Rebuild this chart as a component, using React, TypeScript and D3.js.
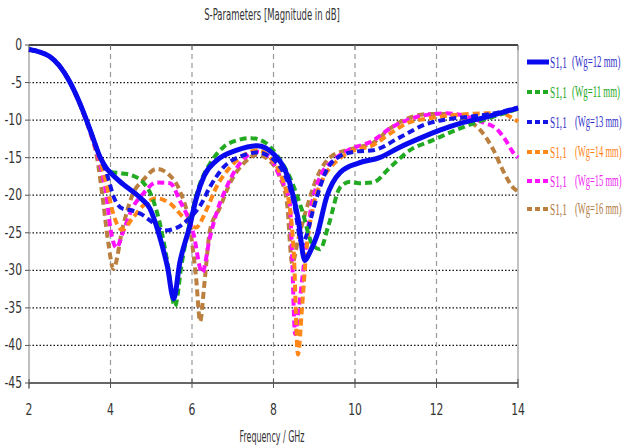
import React from "react";
import * as d3 from "d3";

const xTicks = [2, 4, 6, 8, 10, 12, 14];
const yTicks = [0, -5, -10, -15, -20, -25, -30, -35, -40, -45];

const freqWg12 = [2, 2.25, 2.5, 2.75, 3, 3.25, 3.5, 3.75, 3.9, 4.0, 4.3, 4.72, 4.97, 5.2, 5.4, 5.55, 5.7, 5.95, 6.1, 6.3, 6.6, 7.1, 7.6, 8.0, 8.4, 8.6, 8.77, 8.9, 9.07, 9.3, 9.63, 10.1, 10.6, 11.1, 11.6, 12.1, 12.6, 13.14, 13.6, 14];
const s11Wg12 = [-0.6, -0.9, -1.5, -2.8, -4.9, -7.8, -11.3, -15.0, -16.4, -17.0, -18.5, -20.3, -21.8, -25.4, -29.6, -33.8, -29, -24.0, -20.5, -17.4, -15.4, -14.0, -13.4, -14.5, -18.4, -23, -28.7, -27.5, -25.3, -20.3, -17.0, -15.7, -15.0, -13.6, -12.4, -11.3, -10.4, -9.7, -9.0, -8.4];

const freqWg11 = [2, 2.25, 2.5, 2.75, 3, 3.25, 3.5, 3.75, 3.9, 4.0, 4.3, 4.55, 4.8, 5.0, 5.2, 5.4, 5.58, 5.75, 5.95, 6.2, 6.44, 6.77, 7.1, 7.45, 7.8, 8.1, 8.4, 8.7, 8.95, 9.14, 9.35, 9.63, 9.88, 10.1, 10.44, 10.86, 11.35, 11.9, 12.58, 13.14, 13.6, 14];
const s11Wg11 = [-0.6, -0.9, -1.5, -2.8, -4.9, -7.8, -11.3, -15.0, -16.4, -16.9, -17.1, -17.4, -18.3, -20, -23.5, -29, -34.8, -29, -23.5, -18.4, -15.8, -13.6, -12.7, -12.4, -13.0, -14.8, -17.6, -22, -26.5, -27.2, -24, -19.0, -18.2, -18.4, -18.3, -16.3, -14.0, -12.7, -11.1, -10.0, -9.2, -8.5];

const freqWg13 = [2, 2.25, 2.5, 2.75, 3, 3.25, 3.5, 3.75, 3.9, 4.1, 4.3, 4.5, 4.75, 5.0, 5.3, 5.6, 5.95, 6.2, 6.44, 6.77, 7.26, 7.6, 8.1, 8.5, 8.7, 8.8, 8.97, 9.3, 9.63, 10.0, 10.45, 11.1, 11.76, 12.25, 12.9, 13.5, 14];
const s11Wg13 = [-0.6, -0.9, -1.5, -2.8, -4.9, -7.8, -11.3, -15.0, -17, -20.5, -21.8, -22.0, -22.5, -23.5, -24.7, -24.4, -23, -21.4, -18.9, -16.3, -14.7, -14.3, -15.8, -21, -26.5, -25.5, -22, -16.7, -14.8, -14.2, -14.0, -12.3, -10.5, -9.9, -9.5, -9.0, -8.3];

const freqWg14 = [2, 2.25, 2.5, 2.75, 3, 3.25, 3.5, 3.75, 3.9, 4.07, 4.28, 4.55, 4.8, 5.13, 5.46, 5.8, 6.1, 6.35, 6.6, 6.93, 7.35, 7.6, 7.9, 8.25, 8.4, 8.5, 8.6, 8.7, 8.8, 8.97, 9.2, 9.56, 9.9, 10.45, 10.86, 11.28, 11.77, 12.5, 13.14, 13.6, 13.88, 14];
const s11Wg14 = [-0.6, -0.9, -1.5, -2.8, -4.9, -7.9, -11.5, -15.5, -18.5, -22.5, -24.6, -23.0, -21.4, -20.4, -21.1, -23, -24.3, -22, -18.9, -16.3, -14.4, -14.0, -14.9, -18.4, -21.6, -28, -41.2, -35, -27.8, -21.6, -18.0, -15.4, -14.2, -13.3, -11.8, -10.4, -9.8, -9.3, -9.1, -9.1, -9.8, -10.2];

const freqWg15 = [2, 2.25, 2.5, 2.75, 3, 3.25, 3.5, 3.75, 3.9, 4.0, 4.15, 4.3, 4.55, 4.8, 5.13, 5.46, 5.7, 6.03, 6.25, 6.44, 6.6, 6.85, 7.17, 7.6, 7.9, 8.16, 8.4, 8.45, 8.53, 8.6, 8.73, 8.9, 9.14, 9.46, 9.8, 10.45, 10.86, 11.28, 11.77, 12.25, 12.8, 13.14, 13.5, 13.7, 13.88, 14];
const s11Wg15 = [-0.6, -0.9, -1.5, -2.8, -4.9, -7.9, -11.6, -16, -20, -24.5, -27, -25, -21.6, -19.8, -18.3, -18.4, -20.7, -25, -30.3, -25.6, -22.4, -18.9, -15.8, -14.2, -14.9, -17.6, -21, -27, -38.5, -36, -30, -22.4, -17.6, -15.4, -14.1, -12.7, -11.1, -10.0, -9.3, -9.1, -9.6, -10.3, -11.3, -12.7, -14.3, -15.0];

const freqWg16 = [2, 2.25, 2.5, 2.75, 3, 3.25, 3.5, 3.67, 3.8, 3.95, 4.07, 4.3, 4.55, 4.8, 5.13, 5.46, 5.7, 5.95, 6.1, 6.2, 6.3, 6.44, 6.69, 6.93, 7.26, 7.6, 7.9, 8.16, 8.33, 8.46, 8.6, 8.8, 9.07, 9.4, 9.8, 10.1, 10.45, 10.86, 11.28, 11.77, 12.25, 12.65, 13.07, 13.4, 13.63, 13.88, 14];
const s11Wg16 = [-0.6, -0.9, -1.5, -2.8, -4.9, -7.9, -11.6, -15, -20, -26.5, -29.8, -24.3, -19.8, -18, -16.5, -17.4, -19.4, -24.3, -31, -36.8, -32, -24.7, -21.6, -18.4, -15.8, -14.6, -15.4, -17.6, -21, -29.1, -26, -22, -17.6, -14.9, -14.0, -13.6, -13.0, -11.1, -9.8, -9.2, -9.2, -9.8, -11.3, -14, -16.7, -19, -19.5];

const seriesLabels = ["(Wg=12 mm)", "(Wg=11 mm)", "(Wg=13 mm)", "(Wg=14 mm)", "(Wg=15 mm)", "(Wg=16 mm)"];
const seriesColors = ["#0a0aee", "#22aa22", "#1515e8", "#ff8818", "#ff10ff", "#bb8040"];
const textColors = ["#3030c8", "#22a822", "#3030c8", "#ff8010", "#ee20ee", "#b07840"];
const seriesFreqs = [freqWg12, freqWg11, freqWg13, freqWg14, freqWg15, freqWg16];
const seriesValues = [s11Wg12, s11Wg11, s11Wg13, s11Wg14, s11Wg15, s11Wg16];

const W = 625, H = 446;
const left = 29, right = 518, top = 45, bottom = 383;

export default function App() {
  const x = d3.scaleLinear().domain([2, 14]).range([left, right]);
  const y = d3.scaleLinear().domain([0, -45]).range([top, bottom]);
  const line = d3.line<[number, number]>()
    .x(d => x(d[0]))
    .y(d => y(d[1]))
    .curve(d3.curveMonotoneX);

  const axisFont = "'Liberation Sans Narrow', 'DejaVu Sans Condensed', sans-serif";
  const legendFont = "'Liberation Serif', 'DejaVu Serif', serif";
  const legendY = [62, 92, 122, 152, 181, 209];

  const order = [5, 4, 3, 2, 1, 0];

  return (
    <svg width={W} height={H} style={{ position: "absolute", left: 0, top: 0, background: "#fff" }}>
      <rect x={0} y={0} width={W} height={H} fill="#fff" />
      <g transform="translate(272,20) scale(0.63,1)">
        <text x={0} y={0} textAnchor="middle" fontFamily={axisFont} fontSize={15} fill="#333">S-Parameters [Magnitude in dB]</text>
      </g>

      {yTicks.filter(t => t !== 0 && t !== -45).map(t => (
        <line key={"h" + t} x1={left} x2={right} y1={y(t)} y2={y(t)} stroke="#111" strokeWidth={1.2} strokeDasharray="1.5,2" />
      ))}
      {xTicks.filter(t => t !== 2 && t !== 14).map(t => (
        <line key={"v" + t} x1={x(t)} x2={x(t)} y1={top} y2={bottom} stroke="#999" strokeWidth={1.2} strokeDasharray="5,4" />
      ))}
      <line x1={left} x2={left} y1={top} y2={bottom + 6} stroke="#aaa" strokeWidth={1.5} />
      <line x1={right} x2={right} y1={top} y2={bottom + 5} stroke="#999" strokeWidth={1.2} />
      <line x1={left} x2={right} y1={top} y2={top} stroke="#444" strokeWidth={2} />
      <line x1={left} x2={right} y1={bottom} y2={bottom} stroke="#333" strokeWidth={1.5} />
      {xTicks.map(t => (
        <g key={"xt" + t}>
          <line x1={x(t)} x2={x(t)} y1={top} y2={top + 5} stroke="#777" strokeWidth={1} />
          <line x1={x(t)} x2={x(t)} y1={bottom - 4} y2={bottom + 5} stroke="#555" strokeWidth={1} />
          <g transform={`translate(${x(t)},415) scale(0.75,1)`}>
            <text x={0} y={0} textAnchor="middle" fontFamily={axisFont} fontSize={16} fill="#333">{t}</text>
          </g>
        </g>
      ))}
      {yTicks.map(t => (
        <g key={"yt" + t}>
          <line x1={left - 4} x2={left} y1={y(t)} y2={y(t)} stroke="#555" strokeWidth={1} />
          <g transform={`translate(22,${y(t) + 5}) scale(0.75,1)`}>
            <text x={0} y={0} textAnchor="end" fontFamily={axisFont} fontSize={16} fill="#333">{t}</text>
          </g>
        </g>
      ))}
      <g transform="translate(272,442) scale(0.59,1)">
        <text x={0} y={0} textAnchor="middle" fontFamily={axisFont} fontSize={15} fill="#333">Frequency / GHz</text>
      </g>

      <g>
        {order.map(i => {
          const pts = seriesFreqs[i].map((f, k) => [f, seriesValues[i][k]] as [number, number]);
          return (
            <path key={"s" + i} d={line(pts) || ""} fill="none" stroke={seriesColors[i]}
              strokeWidth={i === 0 ? 5 : 4}
              strokeDasharray={i === 0 ? undefined : "7,4"}
              strokeLinejoin="round" />
          );
        })}
      </g>

      {seriesLabels.map((lab, i) => (
        <g key={"lg" + i}>
          <line x1={527} x2={549} y1={legendY[i]} y2={legendY[i]} stroke={seriesColors[i]}
            strokeWidth={i === 0 ? 5 : 4} strokeDasharray={i === 0 ? undefined : "5,3"} />
          <g transform={`translate(550,${legendY[i] + 6}) scale(0.55,1)`}>
            <text x={0} y={0} fontFamily={legendFont} fontSize={17} fill={textColors[i]}>S1,1</text>
          </g>
          <g transform={`translate(${i < 2 ? 572 : 575},${legendY[i] + 5}) scale(${i < 2 ? 0.52 : 0.5},1)`}>
            <text x={0} y={0} fontFamily={legendFont} fontSize={17} fill={textColors[i]}>{lab}</text>
          </g>
        </g>
      ))}
    </svg>
  );
}
